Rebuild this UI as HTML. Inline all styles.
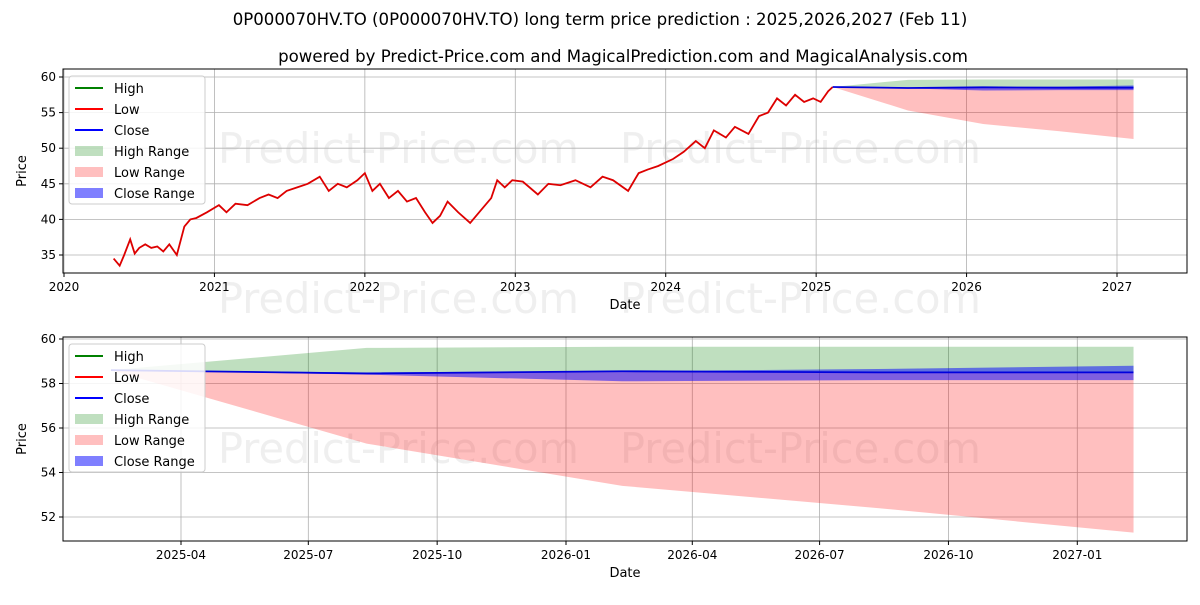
<!DOCTYPE html>
<html><head><meta charset="utf-8"><style>
body{margin:0;background:#fff;font-family:"Liberation Sans","DejaVu Sans",sans-serif}
svg text{font-family:"DejaVu Sans","Liberation Sans",sans-serif}
</style></head><body>
<svg id="c" width="1200" height="600" xmlns="http://www.w3.org/2000/svg">
<rect width="1200" height="600" fill="#fff"/>
<text x="600" y="25" text-anchor="middle" font-size="16.6">0P000070HV.TO (0P000070HV.TO) long term price prediction : 2025,2026,2027 (Feb 11)</text>
<text x="623" y="62" text-anchor="middle" font-size="16.6">powered by Predict-Price.com and MagicalPrediction.com and MagicalAnalysis.com</text>
</svg>
<script>
const histDates=[2020.33,2020.37,2020.40,2020.44,2020.47,2020.50,2020.54,2020.58,2020.62,2020.66,2020.70,2020.75,2020.80,2020.84,2020.88,2020.95,2021.03,2021.08,2021.14,2021.22,2021.30,2021.36,2021.42,2021.48,2021.55,2021.62,2021.70,2021.76,2021.82,2021.88,2021.95,2022.00,2022.05,2022.10,2022.16,2022.22,2022.28,2022.34,2022.40,2022.45,2022.50,2022.55,2022.62,2022.70,2022.78,2022.84,2022.88,2022.93,2022.98,2023.05,2023.15,2023.22,2023.30,2023.40,2023.50,2023.58,2023.65,2023.75,2023.82,2023.88,2023.95,2024.05,2024.12,2024.20,2024.26,2024.32,2024.40,2024.46,2024.55,2024.62,2024.68,2024.74,2024.80,2024.86,2024.92,2024.98,2025.03,2025.08,2025.11];
const histValues=[34.5,33.5,35,37.2,35.2,36,36.5,36,36.2,35.5,36.5,35,39,40,40.2,41,42,41,42.2,42,43,43.5,43,44,44.5,45,46,44,45,44.5,45.5,46.5,44,45,43,44,42.5,43,41,39.5,40.5,42.5,41,39.5,41.5,43,45.5,44.5,45.5,45.3,43.5,45,44.8,45.5,44.5,46,45.5,44,46.5,47,47.5,48.5,49.5,51,50,52.5,51.5,53,52,54.5,55,57,56,57.5,56.5,57,56.5,58,58.6];
const fcDates=[2025.11,2025.61,2026.11,2026.61,2027.11];
const fcClose=[58.6,58.45,58.55,58.5,58.5];
const fcHighUpper=[58.6,59.6,59.65,59.65,59.65];
const fcLowLower=[58.6,55.3,53.4,52.4,51.3];
const fcCloseLower=[58.6,58.4,58.1,58.15,58.15];
const fcCloseUpper=[58.6,58.5,58.55,58.65,58.8];
const topYTicks=[35,40,45,50,55,60];
const topXTicks=[2020,2021,2022,2023,2024,2025,2026,2027];
const botYTicks=[52,54,56,58,60];
const botXTickDates=[2025.247,2025.496,2025.748,2026.0,2026.247,2026.496,2026.748,2027.0];
const botXTickLabels=["2025-04","2025-07","2025-10","2026-01","2026-04","2026-07","2026-10","2027-01"];

const svg=document.getElementById('c');const NS="http://www.w3.org/2000/svg";
function mk(t,a,p){const e=document.createElementNS(NS,t);for(const k in a)e.setAttribute(k,a[k]);(p||svg).appendChild(e);return e;}
function panel(o){
 const g=mk('g',{});
 
 
 const X=v=>o.x0+(v-o.d0)*(o.x1-o.x0)/(o.d1-o.d0);
 const Y=v=>o.y0+(v-o.v0)*(o.y1-o.y0)/(o.v1-o.v0);
 o.wm.forEach(w=>{const t=mk('text',{x:w[0],y:w[1],'font-size':41.5,fill:'#efefef'},g);t.textContent='Predict-Price.com';
  });
 o.yt.forEach(v=>{mk('line',{x1:o.L,x2:o.R,y1:Y(v),y2:Y(v),stroke:'#b0b0b0','stroke-width':0.8},g);
  mk('line',{x1:o.L-4,x2:o.L,y1:Y(v),y2:Y(v),stroke:'#000'},g);
  const t=mk('text',{x:o.L-7,y:Y(v)+4,'text-anchor':'end','font-size':12},g);t.textContent=v;
  });
 o.xt.forEach((v,i)=>{mk('line',{x1:X(v),x2:X(v),y1:o.T,y2:o.B,stroke:'#b0b0b0','stroke-width':0.8},g);
  mk('line',{x1:X(v),x2:X(v),y1:o.B,y2:o.B+4,stroke:'#000'},g);
  const t=mk('text',{x:X(v),y:o.B+18,'text-anchor':'middle','font-size':12},g);t.textContent=o.xl[i];
  });
 const band=(up,lo,col,nm)=>{let d='M'+fcDates.map((x,i)=>X(x)+','+Y(up[i])).join('L');
  for(let i=fcDates.length-1;i>=0;i--)d+='L'+X(fcDates[i])+','+Y(lo[i]);
  const p=mk('path',{d:d+'Z',fill:col},g);};
 band(fcHighUpper,fcClose,'rgba(0,128,0,0.25)','high-range-band');
 band(fcClose,fcLowLower,'rgba(255,0,0,0.25)','low-range-band');
 band(fcCloseUpper,fcCloseLower,'rgba(0,0,255,0.5)','close-range-band');
 if(o.hist){const p=mk('polyline',{points:histDates.map((x,i)=>X(x)+','+Y(histValues[i])).join(' '),fill:'none',stroke:'#dd0000','stroke-width':1.8},g);
  }
 const c=mk('polyline',{points:fcDates.map((x,i)=>X(x)+','+Y(fcClose[i])).join(' '),fill:'none',stroke:'#0000dd','stroke-width':1.8},g);
 
 mk('rect',{x:o.L,y:o.T,width:o.R-o.L,height:o.B-o.T,fill:'none',stroke:'#000','stroke-width':1},g);
 const lg=mk('g',{},g);
 mk('rect',{x:o.L+6,y:o.T+7,width:136,height:128,fill:'rgba(255,255,255,0.85)',stroke:'#ccc',rx:3},lg);
 const items=[['High','line','green'],['Low','line','red'],['Close','line','blue'],['High Range','box','rgba(0,128,0,0.25)'],['Low Range','box','rgba(255,0,0,0.25)'],['Close Range','box','rgba(0,0,255,0.5)']];
 items.forEach((it,i)=>{const yy=o.T+19+i*21;
  if(it[1]=='line')mk('line',{x1:o.L+12,x2:o.L+40,y1:yy,y2:yy,stroke:it[2],'stroke-width':2},lg);
  else mk('rect',{x:o.L+12,y:yy-5,width:28,height:10,fill:it[2]},lg);
  const t=mk('text',{x:o.L+51,y:yy+5,'font-size':13},lg);t.textContent=it[0];
  });
 const xl=mk('text',{x:(o.L+o.R)/2,y:o.B+36,'text-anchor':'middle','font-size':13},g);xl.textContent='Date';
 
 const yl=mk('text',{x:0,y:0,'text-anchor':'middle','font-size':13,transform:`translate(26,${(o.T+o.B)/2}) rotate(-90)`},g);yl.textContent='Price';
 
}
panel({name:'history-panel',L:63,R:1187,T:69,B:273,x0:64,x1:1117,d0:2020,d1:2027,y0:255,y1:77,v0:35,v1:60,
 yt:topYTicks,xt:topXTicks,xl:topXTicks,hist:true,wm:[[218,163],[620,163],[218,313],[620,313]]});
panel({name:'forecast-panel',L:63,R:1187,T:337,B:541,x0:181,x1:566,d0:2025.247,d1:2026.0,y0:517,y1:339,v0:52,v1:60,
 yt:botYTicks,xt:botXTickDates,xl:botXTickLabels,hist:false,wm:[[218,463],[620,463]]});
</script>
</body></html>
